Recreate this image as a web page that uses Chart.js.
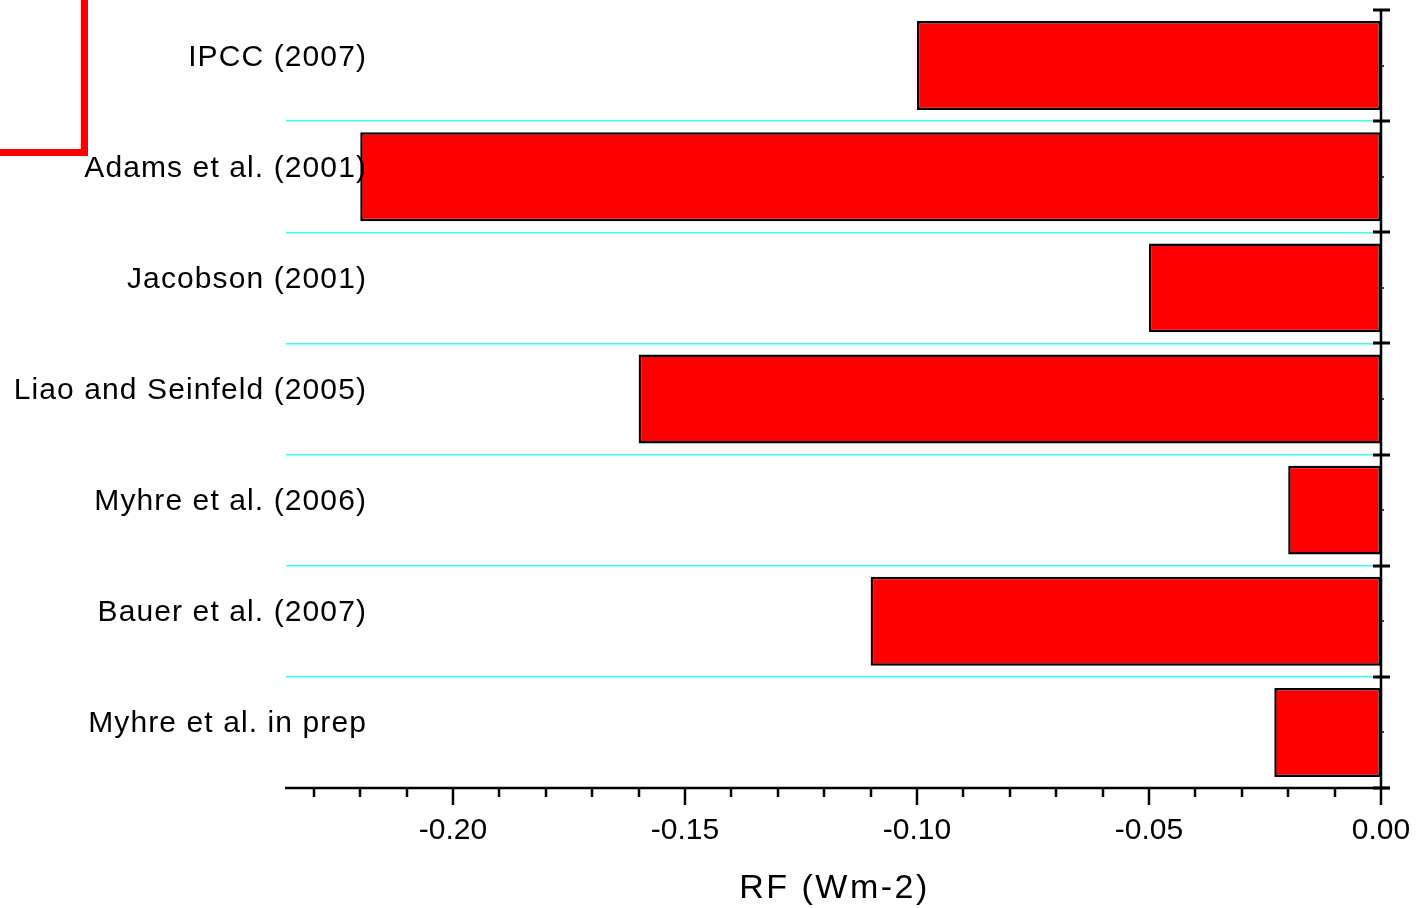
<!DOCTYPE html>
<html>
<head>
<meta charset="utf-8">
<script src="https://cdn.jsdelivr.net/npm/chart.js@4.4.0/dist/chart.umd.min.js"></script>
<style>
  html, body { margin: 0; padding: 0; background: #fff; }
  #rfChart { display: block; }
</style>
</head>
<body>
<canvas id="rfChart" width="1427" height="908"></canvas>
<script>
// Données du graphique (forçage radiatif, Wm-2)
const studies = [
    'IPCC (2007)',
    'Adams et al. (2001)',
    'Jacobson (2001)',
    'Liao and Seinfeld (2005)',
    'Myhre et al. (2006)',
    'Bauer et al. (2007)',
    'Myhre et al. in prep'
];
const rfValues = [-0.100, -0.220, -0.050, -0.160, -0.020, -0.110, -0.023];

// Axe X
const xMin = -0.236;
const xMax = 0;
const majorTicks = [-0.20, -0.15, -0.10, -0.05, 0.00];
const minorTicks = [-0.23, -0.22, -0.21, -0.19, -0.18, -0.17, -0.16, -0.14, -0.13, -0.12, -0.11,
                    -0.09, -0.08, -0.07, -0.06, -0.04, -0.03, -0.02, -0.01];
const axisTitle = 'RF (Wm-2)';

const FONT = '"Liberation Sans", Arial, sans-serif';

// Plugin pour les axes façon Origin (ticks majeurs/mineurs, axe de droite, étiquettes)
const axesPlugin = {
    id: 'axesPlugin',
    afterDraw(chart) {
        const ctx = chart.ctx;
        const area = chart.chartArea;
        const x = chart.scales.x;
        const y = chart.scales.y;

        ctx.save();
        ctx.strokeStyle = '#000';
        ctx.lineCap = 'butt';

        // Axe du bas
        ctx.lineWidth = 2.5;
        ctx.beginPath();
        ctx.moveTo(area.left - 1, area.bottom);
        ctx.lineTo(area.right + 9, area.bottom);
        ctx.stroke();

        minorTicks.forEach(v => {
            const px = Math.round(x.getPixelForValue(v));
            ctx.beginPath();
            ctx.moveTo(px, area.bottom);
            ctx.lineTo(px, area.bottom + 9);
            ctx.stroke();
        });
        majorTicks.forEach(v => {
            const px = Math.round(x.getPixelForValue(v));
            ctx.beginPath();
            ctx.moveTo(px, area.bottom);
            ctx.lineTo(px, area.bottom + 17);
            ctx.stroke();
        });

        // Axe de droite
        ctx.beginPath();
        ctx.moveTo(area.right, area.top);
        ctx.lineTo(area.right, area.bottom);
        ctx.stroke();

        ctx.lineWidth = 3;
        for (let i = 0; i <= studies.length; i++) {
            const py = Math.round(y.getPixelForValue(i - 0.5));
            ctx.beginPath();
            ctx.moveTo(area.right - 8, py);
            ctx.lineTo(area.right + 9, py);
            ctx.stroke();
        }
        ctx.lineWidth = 1.5;
        studies.forEach((s, i) => {
            const py = Math.round(y.getPixelForValue(i));
            ctx.beginPath();
            ctx.moveTo(area.right, py);
            ctx.lineTo(area.right + 3, py);
            ctx.stroke();
        });

        // Étiquettes des études
        ctx.fillStyle = '#000';
        ctx.font = '30px ' + FONT;
        ctx.letterSpacing = '1.1px';
        ctx.textAlign = 'right';
        ctx.textBaseline = 'alphabetic';
        studies.forEach((s, i) => {
            const py = y.getPixelForValue(i);
            ctx.fillText(s, 367, py);
        });

        // Titre de l'axe X
        ctx.font = '34px ' + FONT;
        ctx.letterSpacing = '2.5px';
        ctx.textAlign = 'center';
        ctx.fillText(axisTitle, (area.left + area.right) / 2 + 1, 898);

        // Marque rouge en haut à gauche (reste de légende)
        ctx.letterSpacing = '0px';
        ctx.fillStyle = '#ff0000';
        ctx.fillRect(81, 0, 7, 156);
        ctx.fillRect(0, 149, 88, 7);

        ctx.restore();
    }
};

function buildChart() {
    const canvas = document.getElementById('rfChart');
    const ctx = canvas.getContext('2d');

    const config = {
        type: 'bar',
        data: {
            labels: studies,
            datasets: [{
                label: 'RF',
                data: rfValues,
                backgroundColor: '#ff0000',
                borderColor: '#000000',
                borderWidth: 2.5,
                borderSkipped: false,
                barPercentage: 0.8,
                categoryPercentage: 1.0
            }]
        },
        options: {
            indexAxis: 'y',
            responsive: false,
            animation: false,
            layout: {
                padding: { left: 286, right: 46, top: 10, bottom: 0 }
            },
            scales: {
                x: {
                    type: 'linear',
                    position: 'bottom',
                    min: xMin,
                    max: xMax,
                    afterBuildTicks: scale => {
                        scale.ticks = majorTicks.map(v => ({ value: v }));
                    },
                    afterFit: scale => {
                        scale.height = 120;
                        scale.paddingLeft = 0;
                        scale.paddingRight = 0;
                    },
                    grid: { display: false, drawTicks: false },
                    border: { display: false },
                    ticks: {
                        color: '#000',
                        font: { family: FONT, size: 30 },
                        padding: 25,
                        maxRotation: 0,
                        autoSkip: false,
                        callback: v => Number(v).toFixed(2)
                    }
                },
                y: {
                    position: 'left',
                    afterFit: scale => { scale.width = 0; },
                    ticks: { display: false },
                    border: { display: false },
                    grid: {
                        offset: true,
                        drawTicks: false,
                        lineWidth: 1.5,
                        color: c => (c.index === 0 || c.index >= studies.length) ? 'rgba(0,0,0,0)' : '#33ffff'
                    }
                }
            },
            plugins: {
                legend: { display: false },
                tooltip: { enabled: false },
                title: { display: false }
            }
        },
        plugins: [axesPlugin]
    };

    return new Chart(ctx, config);
}

window.rfChart = buildChart();
</script>
</body>
</html>
